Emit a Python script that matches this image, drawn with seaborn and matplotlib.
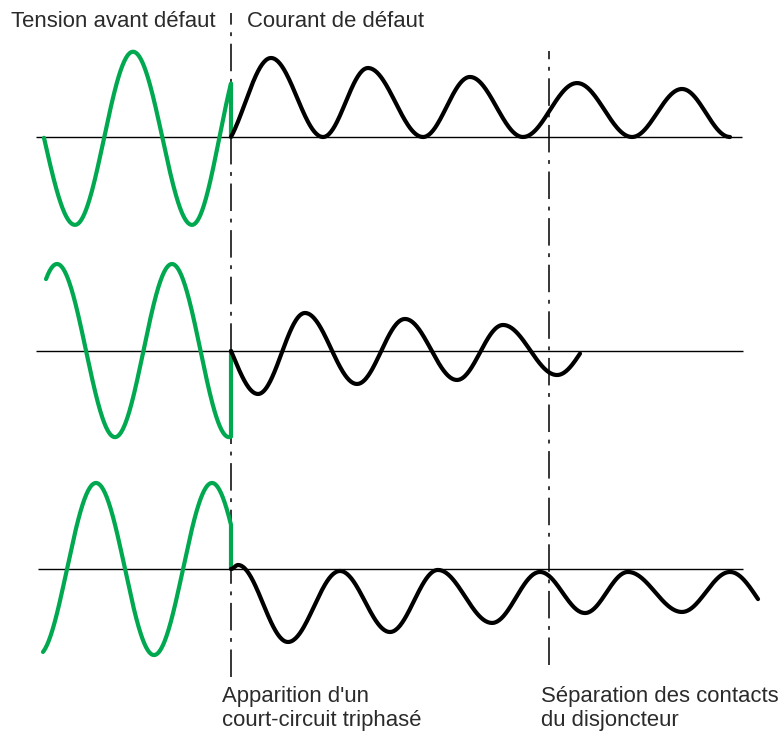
import numpy as np
import pandas as pd
import matplotlib
matplotlib.use("Agg")
import matplotlib.pyplot as plt
import seaborn as sns

# Time axis in ms (fault at t = 0), amplitudes in per-unit of the pre-fault voltage.
# Each waveform is given by its successive peaks and troughs; the first and last
# entries are the neighbouring extrema just outside the drawn span.

# Panel 1: fully offset fault current
P1_VOLT_T = [-37.3, -26.67, -16.75, -6.67, 2.7]
P1_VOLT_Y = [1.0, -1.01, 0.98, -1.01, 1.0]
P1_VOLT_SPAN = (-31.97, 0.0)
P1_CURR_T = [-2.06, 6.84, 15.73, 23.42, 32.82, 40.85, 49.91, 59.15, 68.55, 77.09, 85.30]
P1_CURR_Y = [-0.13, 0.908, 0.0, 0.793, 0.0, 0.69, 0.0, 0.62, 0.0, 0.552, 0.0]
P1_CURR_SPAN = (0.0, 85.30)

# Panel 2: symmetrical fault current
P2_VOLT_T = [-39.6, -29.74, -19.83, -10.09, -0.34, 9.5]
P2_VOLT_Y = [-0.99, 1.0, -0.99, 1.0, -0.99, 1.0]
P2_VOLT_SPAN = (-31.62, 0.0)
P2_CURR_T = [-3.8, 4.62, 12.65, 21.54, 29.74, 38.63, 46.50, 55.73, 64.2]
P2_CURR_Y = [0.365, -0.494, 0.437, -0.379, 0.368, -0.333, 0.299, -0.276, 0.28]
P2_CURR_SPAN = (0.0, 59.66)

# Panel 3: negatively offset fault current
P3_VOLT_T = [-33.0, -23.08, -13.16, -3.25, 6.65]
P3_VOLT_Y = [-0.99, 0.989, -0.989, 0.989, -0.989]
P3_VOLT_SPAN = (-32.14, 0.0)
P3_CURR_T = [0.0, 1.2, 9.74, 18.63, 27.18, 35.38, 44.62, 52.82, 60.51, 67.86, 77.09, 85.30, 94.5]
P3_CURR_Y = [0.0, 0.046, -0.839, -0.023, -0.724, -0.011, -0.62, -0.034, -0.506, -0.034, -0.494, -0.034, -0.62]
P3_CURR_SPAN = (0.0, 90.09)

# Zero-line extents of each panel (ms)
ZERO_SPANS = [(-33.33, 87.35), (-33.33, 87.52), (-32.99, 87.52)]

# Event markers (ms)
T_FAULT = 0.0
T_OPEN = 54.36

LBL_VOLT = "Tension avant défaut"
LBL_CURR = "Courant de défaut"
LBL_FAULT = "Apparition d'un\ncourt-circuit triphasé"
LBL_OPEN = "Séparation des contacts\ndu disjoncteur"

GREEN = "#00A84F"
INK = "#000000"
TEXT = "#2b2b2b"

sns.set_theme(style="white")
plt.rcParams["font.family"] = ["Liberation Sans", "DejaVu Sans"]


def trace(kt, ky, span, n=500):
    """Smooth half-cycle arcs joining successive extrema, sampled over span."""
    kt = np.asarray(kt, float)
    ky = np.asarray(ky, float)
    t = np.linspace(span[0], span[1], n)
    i = np.clip(np.searchsorted(kt, t, side="right") - 1, 0, len(kt) - 2)
    s = (t - kt[i]) / (kt[i + 1] - kt[i])
    y = ky[i] + (ky[i + 1] - ky[i]) * (1 - np.cos(np.pi * s)) / 2
    return t, y


W, H = 784, 731
fig = plt.figure(figsize=(W / 100, H / 100), dpi=100)
XLIM = (-231 / 5.85, (W - 231) / 5.85)

# event markers sit underneath the waveforms
ov = fig.add_axes([0, 0, 1, 1], facecolor="none")
ov.set_xlim(*XLIM)
ov.set_ylim(0, 1)
ov.axis("off")
dash = (18, 5, 2.5, 5)
ov.axvline(T_FAULT, ymin=1 - 677 / H, ymax=1 - 13 / H, color=INK, lw=1.1,
           linestyle=(0, dash), zorder=2)
ov.axvline(T_OPEN, ymin=1 - 665 / H, ymax=1 - 51 / H, color=INK, lw=1.1,
           linestyle=(0, dash), zorder=2)

# pixel bands (top, bottom) and zero-line row for each panel
bands = [(0, 244, 137), (244, 460, 351), (460, 731, 569)]
PX_PER_UNIT = 87.0

panels = [
    (P1_VOLT_T, P1_VOLT_Y, P1_VOLT_SPAN, P1_CURR_T, P1_CURR_Y, P1_CURR_SPAN),
    (P2_VOLT_T, P2_VOLT_Y, P2_VOLT_SPAN, P2_CURR_T, P2_CURR_Y, P2_CURR_SPAN),
    (P3_VOLT_T, P3_VOLT_Y, P3_VOLT_SPAN, P3_CURR_T, P3_CURR_Y, P3_CURR_SPAN),
]

for (top, bot, zero), (vt, vy, vspan, ct, cy, cspan), zspan in zip(bands, panels, ZERO_SPANS):
    ax = fig.add_axes([0, 1 - bot / H, 1, (bot - top) / H], facecolor="none")
    ax.set_xlim(*XLIM)
    ax.set_ylim(-(bot - zero) / PX_PER_UNIT, (zero - top) / PX_PER_UNIT)
    ax.axis("off")

    ax.hlines(0, zspan[0], zspan[1], color=INK, lw=1.0, zorder=1)

    t, y = trace(vt, vy, vspan)
    # voltage collapses to zero at the fault instant
    t = np.append(t, vspan[1])
    y = np.append(y, 0.0)
    dv = pd.DataFrame({"t": t, "v": y})
    sns.lineplot(data=dv, x="t", y="v", ax=ax, color=GREEN, lw=3.0,
                 estimator=None, sort=False, zorder=3,
                 solid_capstyle="round", solid_joinstyle="round")

    t, y = trace(ct, cy, cspan)
    dc = pd.DataFrame({"t": t, "i": y})
    sns.lineplot(data=dc, x="t", y="i", ax=ax, color=INK, lw=3.0,
                 estimator=None, sort=False, zorder=3,
                 solid_capstyle="round", solid_joinstyle="round")
    ax.set_xlabel("")
    ax.set_ylabel("")

fs = 15.9
fig.text(11 / W, 1 - 27 / H, LBL_VOLT, fontsize=fs, color=TEXT, ha="left", va="baseline")
fig.text(247 / W, 1 - 27 / H, LBL_CURR, fontsize=fs, color=TEXT, ha="left", va="baseline")
fig.text(222 / W, 1 - 726 / H, LBL_FAULT, fontsize=fs, color=TEXT, ha="left", va="baseline",
         linespacing=1.2)
fig.text(541 / W, 1 - 726 / H, LBL_OPEN, fontsize=fs, color=TEXT, ha="left", va="baseline",
         linespacing=1.2)

fig.savefig("out.png", dpi=100)
